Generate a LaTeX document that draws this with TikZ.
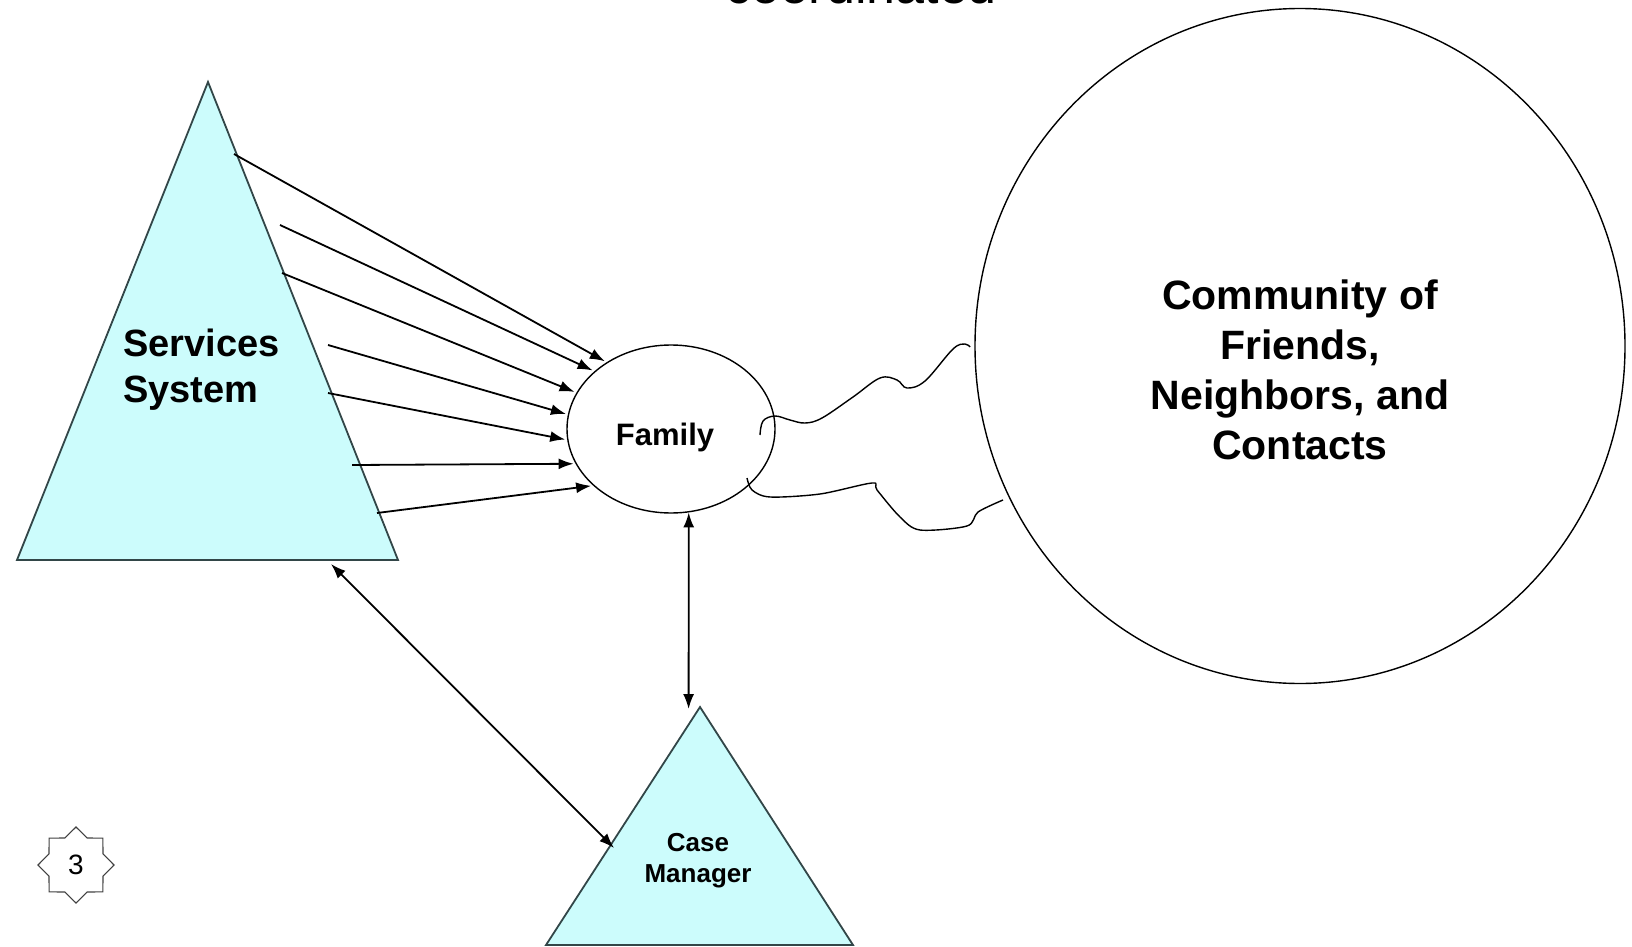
\documentclass[tikz,border=0pt]{standalone}
\usepackage{fontspec}
\setmainfont{Liberation Sans}
\usetikzlibrary{shapes.geometric, arrows.meta}
\definecolor{trifill}{RGB}{204,252,252}
\definecolor{triline}{RGB}{50,70,72}

\begin{document}
\begin{tikzpicture}[x = 1pt, y = -1pt,
    tri/.style = {draw = triline, fill = trifill, line width = 1.8pt},
    arr/.style = {line width = 1.8pt, shorten > = 2pt, -{Latex[length = 15pt, width = 11pt]}},
    darr/.style = {line width = 1.8pt, {Latex[length = 15pt, width = 11pt]}-{Latex[length = 15pt, width = 11pt]}},
    wavy/.style = {line width = 1.4pt}]

      \useasboundingbox (0,0) rectangle (1632,947);
      \clip (0,0) rectangle (1632,947);

      \node[anchor = base, font = \fontsize{52}{60}\selectfont] (title) at (861,4) {coordinated};

      % services system
      \draw[tri] (208,82) -- (398,560) -- (17,560) -- cycle;
      \node[anchor = west, align = left, inner sep = 0, font = \fontsize{38}{46}\selectfont\bfseries] (serv) at (123,370) {Services\\System};

      % case manager
      \draw[tri] (700,707) -- (853,945) -- (546,945) -- cycle;
      \node[align = center, inner sep = 0, font = \fontsize{26}{31}\selectfont\bfseries] (cm) at (698,861) {Case\\Manager};

      % family
      \node[draw, ellipse, line width = 1.4pt, minimum width = 208, minimum height = 168, inner sep = 0] (fam) at (671,429) {};
      \node[anchor = base, font = \fontsize{31}{37}\selectfont\bfseries] (famtxt) at (665,445) {Family};

      % community
      \node[draw, ellipse, line width = 1.4pt, minimum width = 650, minimum height = 675, inner sep = 0] (comm) at (1300,346) {};
      \node[align = center, inner sep = 0, font = \fontsize{41}{50}\selectfont\bfseries] (commtxt) at (1300,370) {Community of\\Friends,\\Neighbors, and\\Contacts};

      \node[draw = black!75, star, star points = 8, star point ratio = 1.3, minimum size = 76, inner sep = 0, line width = 1.1pt, font = \fontsize{28}{34}\selectfont] (page) at (76,865) {3};

      \coordinate (s1) at (234,154);
      \coordinate (s2) at (280,225);
      \coordinate (s3) at (282,273);
      \coordinate (s4) at (328,345);
      \coordinate (s5) at (328,393);
      \coordinate (s6) at (352,465);
      \coordinate (s7) at (377,513);

      \draw[arr] (s1) -- (fam.134);
      \draw[arr] (s2) -- (fam.143);
      \draw[arr] (s3) -- (fam.159);
      \draw[arr] (s4) -- (fam.172);
      \draw[arr] (s5) -- (fam.186);
      \draw[arr] (s6) -- (fam.200);
      \draw[arr] (s7) -- (fam.216);

      \coordinate (cmtop) at (688.6,709);
      \draw[darr] (fam.-78) -- (cmtop);

      \coordinate (servbase) at (331,564);
      \coordinate (cmleft) at (614,848);
      \draw[darr] (servbase) -- (cmleft);

      \draw[wavy] plot[smooth, tension = .6] coordinates {(760,435) (763,421) (775,416) (790,420) (805,423) (822,418) (853,397) (880,378) (897,380) (907,388) (925,381) (953,349) (965,344) (970,347)};
      \draw[wavy] plot[smooth, tension = .5] coordinates {(747,478) (752,490) (770,497) (820,494) (872,483) (877,490) (900,517) (920,530) (967,526) (978,512) (1003,500)};
    \end{tikzpicture}
\end{document}
